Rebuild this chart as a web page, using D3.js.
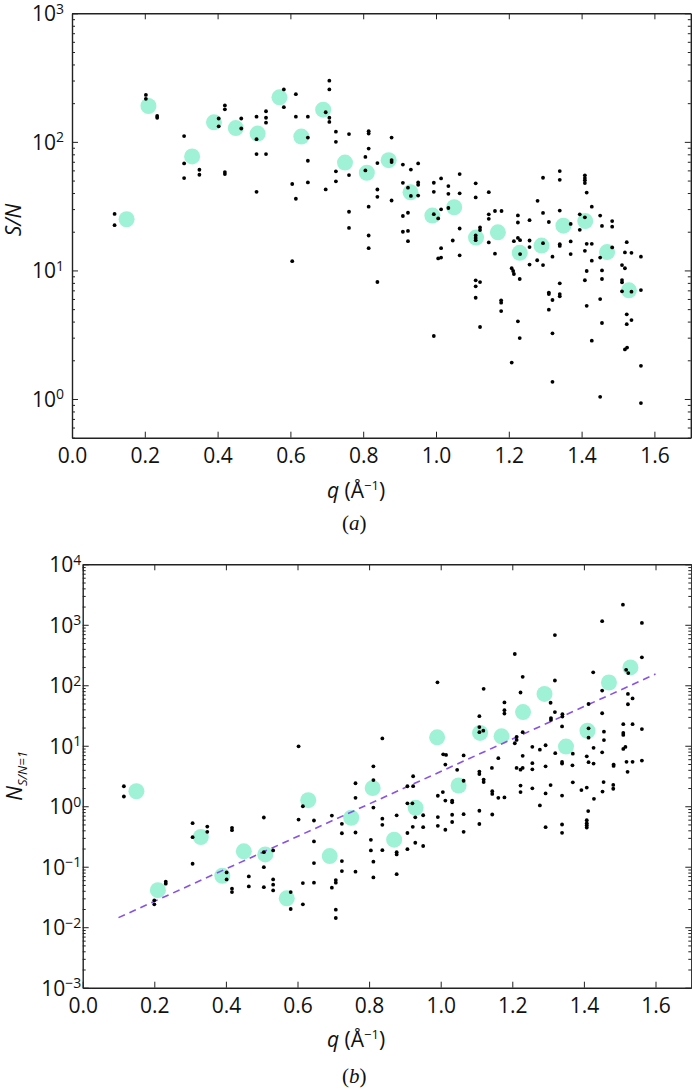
<!DOCTYPE html>
<html>
<head>
<meta charset="utf-8">
<script src="https://cdn.jsdelivr.net/npm/d3@7"></script>
<style>
    body { margin: 0; background: #fff; }
    svg text { font-family: "Open Sans", sans-serif; fill: #111; }
</style>
</head>
<body>
<div id="chart"></div>
<script>
/* ===== DATA ===== */

// bin centres of the averaged points (green)
const qBins = [0.15, 0.21, 0.33, 0.39, 0.45, 0.51, 0.57, 0.63, 0.69, 0.75, 0.81, 0.87,
               0.93, 0.99, 1.05, 1.11, 1.17, 1.23, 1.29, 1.35, 1.41, 1.47, 1.53];
const snMean = [25, 190, 77, 142, 128, 116, 222, 110, 178, 69, 57.5, 72,
                40.5, 26.7, 31, 18, 19.8, 13.7, 15.6, 22.3, 24.2, 13.9, 7.0];
const nMean = [1.77, 0.041, 0.31, 0.071, 0.18, 0.16, 0.030, 1.26, 0.15, 0.645, 2.0, 0.28,
               0.94, 13.8, 2.2, 16.3, 14.3, 36, 72, 9.7, 17.7, 111, 197];

// individual reflections, [q, S/N]
const snPoints = [
    [0.117,27.5],[0.117,22.5],[0.203,232],[0.203,216],[0.234,159],[0.234,154],
    [0.308,111],[0.308,68],[0.308,52.3],[0.350,60.7],[0.350,55.5],
    [0.403,152],[0.403,132],[0.420,192],[0.420,179],[0.420,58.2],[0.420,56.2],
    [0.465,152],[0.465,127],
    [0.507,157],[0.507,105],[0.507,80.4],[0.507,40.9],
    [0.533,173],[0.533,154],[0.533,141],[0.533,80.4],
    [0.582,256],[0.582,186],[0.605,47],[0.605,11.8],
    [0.615,235],[0.615,157],[0.615,36.1],
    [0.648,157],[0.648,108],[0.648,71.3],[0.648,48.4],
    [0.697,42.7],[0.697,170],
    [0.707,299],[0.707,256],[0.707,154],[0.707,143],
    [0.725,120],[0.725,100],[0.725,59],[0.725,49.3],
    [0.761,115],[0.761,55.2],[0.761,28.6],[0.761,21.4],
    [0.815,121],[0.815,116],[0.815,88.7],[0.806,76.4],[0.806,60],[0.815,31.3],[0.815,18.7],[0.815,14.9],
    [0.839,68.4],[0.839,42.6],[0.839,37.4],[0.839,8.13],
    [0.878,108],[0.878,72.2],[0.878,69.7],[0.878,35],
    [0.909,66.6],[0.909,48],[0.909,26.5],[0.909,20],
    [0.931,60.9],[0.923,44],[0.931,38],[0.923,28.1],[0.923,20.3],[0.923,16.9],
    [0.951,68],[0.951,48.3],[0.951,46.3],[0.951,38.2],
    [0.994,48.1],[0.994,40.9],[0.994,27.4],[0.994,3.09],
    [1.014,52],[1.006,25.4],[1.014,29.9],[1.014,14.9],[1.006,12.4],[1.014,12.6],
    [1.034,45.3],[1.034,39.4],[1.034,30.6],
    [1.065,56.2],[1.065,39.8],[1.065,21.2],[1.065,13.1],[1.046,17.1],
    [1.109,47.6],[1.109,37],[1.109,18.7],[1.109,17.9],[1.109,17.2],[1.121,21.6],[1.121,20.6],
    [1.109,8.38],[1.121,8.12],[1.109,7.52],[1.109,6.13],[1.121,3.63],
    [1.145,40.6],[1.145,27.3],[1.145,25.2],[1.145,16.5],
    [1.162,29],[1.180,29],[1.162,13.5],[1.179,5.85],[1.179,5.61],[1.179,4.83],
    [1.225,26.8],[1.225,23.6],[1.214,16.9],[1.225,17.9],[1.231,17.2],[1.231,13.4],
    [1.257,24.6],[1.257,17.1],[1.257,15.2],[1.257,11.1],
    [1.208,10.4],[1.212,9.9],[1.214,9.38],[1.230,8.58],[1.225,4.02],[1.230,2.98],[1.208,1.92],
    [1.279,34.8],[1.294,52.6],[1.294,28],[1.310,23.8],[1.294,16.3],[1.320,12.8],[1.278,12],[1.294,11],
    [1.310,6.73],[1.310,6.55],[1.320,5.89],[1.310,4.95],[1.320,3.24],[1.320,1.36],
    [1.340,59.3],[1.340,50.7],[1.340,29.2],[1.340,16],[1.340,15.5],[1.340,7.94],[1.340,6.55],[1.340,6.29],
    [1.370,23],[1.370,16.8],[1.370,13.4],
    [1.409,54.9],[1.409,52.3],[1.409,50.2],[1.409,47.8],[1.414,40.3],[1.428,31.3],[1.395,27.3],
    [1.409,25.9],[1.395,20.7],[1.414,16.1],[1.428,16.1],[1.409,14.2],[1.428,11.9],[1.414,9.9],
    [1.409,8.39],[1.414,5.31],[1.428,2.84],
    [1.451,26.7],[1.456,22.2],[1.484,24.2],[1.484,21.9],[1.484,15.1],[1.451,12.6],[1.456,10],
    [1.456,8.58],[1.451,5.99],[1.456,3.9],[1.451,1.04],
    [1.524,16.6],[1.519,13.8],[1.537,13.7],[1.563,12.8],[1.511,11],[1.519,10.4],[1.511,8.42],
    [1.511,8.08],[1.511,6.88],[1.537,6.83],[1.563,7.04],[1.524,4.56],[1.537,4.11],[1.524,3.82],
    [1.519,2.43],[1.525,2.51],[1.563,1.81],[1.563,0.93]
];

// individual reflections, [q, N at S/N = 1]
const nPoints = [
    [0.115,2.14],[0.115,1.45],[0.200,0.0278],[0.200,0.0239],[0.232,0.0566],[0.232,0.0524],
    [0.307,0.524],[0.307,0.308],[0.307,0.112],[0.348,0.462],[0.348,0.378],
    [0.402,0.0805],[0.402,0.0617],[0.417,0.44],[0.417,0.402],[0.417,0.0434],[0.417,0.0381],
    [0.464,0.0692],[0.464,0.0473],
    [0.506,0.651],[0.506,0.174],[0.506,0.0985],[0.506,0.046],
    [0.532,0.186],[0.532,0.0617],[0.532,0.0505],[0.532,0.0406],
    [0.581,0.0381],[0.581,0.02],
    [0.603,9.78],[0.603,0.603],[0.615,1.0],[0.615,0.0536],[0.615,0.0239],
    [0.646,0.581],[0.646,0.262],[0.646,0.115],[0.646,0.0545],
    [0.696,0.702],[0.696,0.045],
    [0.707,0.0601],[0.707,0.0545],[0.707,0.0195],[0.707,0.0142],
    [0.724,0.513],[0.724,0.358],[0.724,0.124],[0.724,0.0846],
    [0.762,2.4],[0.762,1.376],[0.762,0.368],[0.762,0.0827],
    [0.812,4.57],[0.812,2.71],[0.812,0.952],[0.805,0.279],[0.805,0.186],[0.812,0.121],[0.812,0.0666],
    [0.837,13.2],[0.837,0.622],[0.837,0.493],[0.837,0.188],
    [0.877,0.708],[0.877,0.174],[0.877,0.16],[0.877,0.0752],
    [0.907,2.14],[0.923,3.13],[0.923,2.15],[0.907,1.117],[0.921,1.117],[0.907,0.361],[0.907,0.195],
    [0.929,0.656],[0.922,0.457],[0.929,0.249],[0.951,0.71],[0.951,0.45],[0.951,0.22],
    [0.991,112],[0.992,1.49],[0.992,0.663],[0.992,0.475],[1.006,1.715],
    [1.007,7.21],[1.015,7.05],[1.013,4.88],[1.013,1.24],[1.013,0.409],
    [1.032,1.24],[1.032,1.164],[1.032,0.724],[1.032,0.549],
    [1.046,4.0],[1.064,6.92],[1.064,2.64],[1.064,0.738],[1.064,0.378],
    [1.108,30.8],[1.108,20.4],[1.119,17.75],[1.108,16.8],[1.108,3.74],[1.108,3.4],[1.120,2.76],
    [1.120,2.51],[1.108,0.843],[1.108,0.509],[1.120,87.5],
    [1.143,4.3],[1.144,1.77],[1.144,1.6],[1.144,0.73],[1.161,6.24],[1.161,1.376],[1.178,1.4],
    [1.178,52],[1.178,38.7],[1.178,34.1],
    [1.207,329],[1.212,13.97],[1.212,12.5],[1.207,11],[1.212,4.3],
    [1.223,76],[1.229,138],[1.229,16.8],[1.229,6.81],[1.223,4.03],[1.229,4.3],[1.223,2.2],[1.223,1.715],
    [1.256,9.59],[1.256,5.16],[1.256,4.08],[1.256,1.98],[1.277,8.62],[1.277,1.03],
    [1.293,10.2],[1.293,4.57],[1.293,1.63],[1.293,0.45],
    [1.307,51.4],[1.307,2.24],[1.319,676],[1.319,120],[1.308,28.7],[1.308,26.7],[1.319,36.1],[1.320,7.55],
    [1.340,33.2],[1.340,30.4],[1.339,20.9],[1.339,5.4],[1.339,5.07],[1.339,1.5],[1.339,0.499],[1.339,0.364],
    [1.369,7.41],[1.368,4.75],[1.369,2.49],
    [1.393,1.85],[1.408,2.035],[1.412,0.833],[1.408,0.587],[1.408,0.524],[1.408,0.486],[1.408,0.445],
    [1.413,49],[1.426,164],[1.413,19.4],[1.413,13.6],[1.427,9.23],[1.408,6.68],[1.413,5.36],
    [1.427,5.07],[1.428,1.325],
    [1.451,1146],[1.451,81.8],[1.451,34.5],[1.456,17.1],[1.456,12.4],[1.451,7.78],[1.452,1.75],[1.455,2.51],
    [1.483,4.88],[1.483,4.64],[1.482,2.25],[1.482,1.945],
    [1.509,2154],[1.518,180],[1.524,159],[1.523,71.9],[1.523,48.6],[1.536,60.6],[1.510,22.7],
    [1.536,22.7],[1.510,16.3],[1.510,15.1],
    [1.562,1075],[1.562,290],[1.562,18.9],[1.562,5.68],
    [1.510,8.86],[1.516,9.55],[1.519,5.42],[1.536,5.42],[1.522,3.71]
];

// dashed fit in panel (b): end points
const fitQ = [0.1, 1.6];
const fitN = [0.0144, 153];

const xTicks = [0, 0.2, 0.4, 0.6, 0.8, 1.0, 1.2, 1.4, 1.6];

/* ===== DRAWING ===== */

const W = 692, H = 1091;
const svg = d3.select('#chart').append('svg')
    .attr('width', W)
    .attr('height', H);

const GREEN = '#9ff2d5';
const AXIS = '#222';
const FS = 21;

function logMinor(domain) {
    const out = [];
    const lo = Math.floor(Math.log10(domain[0]));
    const hi = Math.ceil(Math.log10(domain[1]));
    for (let e = lo; e < hi; e++) {
        for (let k = 2; k <= 9; k++) {
            const v = k * Math.pow(10, e);
            if (v >= domain[0] * 0.999 && v <= domain[1]) out.push(v);
        }
    }
    return out;
}

function styleAxis(g) {
    g.selectAll('path.domain').attr('stroke', AXIS).attr('stroke-width', 1.4);
    g.selectAll('.tick line').attr('stroke', AXIS).attr('stroke-width', 1);
}

function drawPanel(cfg) {
    const x = d3.scaleLinear().domain([0, 1.7]).range([cfg.x0, cfg.x1]);
    const y = d3.scaleLog().domain(cfg.yDomain).range([cfg.y1, cfg.y0]);
    const majors = d3.range(cfg.expMin, cfg.expMax + 1).map(e => Math.pow(10, e));
    const minors = logMinor(cfg.yDomain);

    const g = svg.append('g');

    // marks: green bin means, then black points on top
    g.append('g').selectAll('circle')
        .data(qBins.map((q, i) => [q, cfg.means[i]]))
        .enter().append('circle')
        .attr('cx', d => x(d[0]))
        .attr('cy', d => y(d[1]))
        .attr('r', 8)
        .attr('fill', GREEN);

    if (cfg.fit) {
        g.append('path')
            .datum(cfg.fit)
            .attr('d', d3.line().x(d => x(d[0])).y(d => y(d[1])))
            .attr('fill', 'none')
            .attr('stroke', '#8752e6')
            .attr('stroke-width', 1.6)
            .attr('stroke-dasharray', '7,5');
    }

    g.append('g').selectAll('circle')
        .data(cfg.points)
        .enter().append('circle')
        .attr('cx', d => x(d[0]))
        .attr('cy', d => y(d[1]))
        .attr('r', 1.9)
        .attr('fill', '#000');

    // x axes (ticks point inward)
    const xb = g.append('g').attr('transform', `translate(0,${cfg.y1})`)
        .call(d3.axisBottom(x).tickValues(xTicks).tickFormat(d3.format('.1f'))
            .tickSize(-6).tickSizeOuter(0).tickPadding(10));
    xb.selectAll('text').style('font-size', FS + 'px').attr('fill', '#111');
    styleAxis(xb);

    const xt = g.append('g').attr('transform', `translate(0,${cfg.y0})`)
        .call(d3.axisTop(x).tickValues(xTicks).tickFormat('').tickSize(-6).tickSizeOuter(0));
    styleAxis(xt);

    // y axes: majors with labels, minors without
    const yl = g.append('g').attr('transform', `translate(${cfg.x0},0)`)
        .call(d3.axisLeft(y).tickValues(majors).tickSize(-6).tickSizeOuter(0)
            .tickPadding(cfg.yPad).tickFormat(''));
    styleAxis(yl);
    yl.selectAll('.tick text').each(function(d) {
        const e = Math.round(Math.log10(d));
        const t = d3.select(this).attr('dy', null).attr('y', 7.5).style('font-size', FS + 'px');
        t.append('tspan').text('10');
        t.append('tspan').attr('dy', -7.5).style('font-size', '14px')
            .text(e < 0 ? '\u2212' + (-e) : String(e));
    });

    const ylm = g.append('g').attr('transform', `translate(${cfg.x0},0)`)
        .call(d3.axisLeft(y).tickValues(minors).tickSize(-3).tickSizeOuter(0).tickFormat(''));
    styleAxis(ylm);
    ylm.select('path.domain').remove();

    const yr = g.append('g').attr('transform', `translate(${cfg.x1},0)`)
        .call(d3.axisRight(y).tickValues(majors).tickSize(-6).tickSizeOuter(0).tickFormat(''));
    styleAxis(yr);
    const yrm = g.append('g').attr('transform', `translate(${cfg.x1},0)`)
        .call(d3.axisRight(y).tickValues(minors).tickSize(-3).tickSizeOuter(0).tickFormat(''));
    styleAxis(yrm);
    yrm.select('path.domain').remove();

    // x label: q (Å^-1)
    const xl = svg.append('text')
        .attr('x', 327).attr('y', cfg.xLabelY)
        .style('font-size', FS + 'px');
    xl.append('tspan').style('font-style', 'italic').text('q');
    xl.append('tspan').text(' (\u00C5');
    xl.append('tspan').attr('dy', -8).style('font-size', '13px').text('\u22121');
    xl.append('tspan').attr('dy', 8).text(')');

    // panel letter
    const pl = svg.append('text')
        .attr('x', 342).attr('y', cfg.letterY)
        .style('font-family', '"Liberation Serif", "Times New Roman", serif')
        .style('font-size', '21px');
    pl.append('tspan').text('(');
    pl.append('tspan').style('font-style', 'italic').text(cfg.letter);
    pl.append('tspan').text(')');

    return { x, y };
}

drawPanel({
    x0: 72, x1: 690.8, y0: 13.3, y1: 437.7,
    yDomain: [0.5, 1000], expMin: 0, expMax: 3, yPad: 8,
    points: snPoints, means: snMean,
    xLabelY: 498, letterY: 530, letter: 'a'
});

drawPanel({
    x0: 82.7, x1: 691.3, y0: 564.3, y1: 987.7,
    yDomain: [0.001, 10000], expMin: -3, expMax: 4, yPad: 1.5,
    points: nPoints, means: nMean,
    fit: fitQ.map((q, i) => [q, fitN[i]]),
    xLabelY: 1047, letterY: 1083, letter: 'b'
});

// y labels
svg.append('text')
    .attr('transform', 'translate(21,220) rotate(-90)')
    .attr('text-anchor', 'middle')
    .style('font-size', FS + 'px')
    .style('font-style', 'italic')
    .text('S/N');

const nl = svg.append('text')
    .attr('transform', 'translate(22,776) rotate(-90)')
    .attr('text-anchor', 'middle')
    .style('font-size', FS + 'px')
    .style('font-style', 'italic');
nl.append('tspan').text('N');
nl.append('tspan').attr('dy', 5).style('font-size', '13px').text('S/N=1');
</script>
</body>
</html>
